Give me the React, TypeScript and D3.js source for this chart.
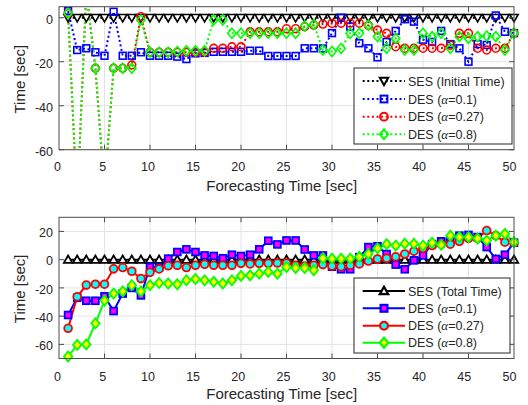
import React from 'react';
import * as d3 from 'd3';

const TIME = [1,2,3,4,5,6,7,8,9,10,11,12,13,14,15,16,17,18,19,20,21,22,23,24,25,26,27,28,29,30,31,32,33,34,35,36,37,38,39,40,41,42,43,44,45,46,47,48,49,50];
const X_TICKS = [0,5,10,15,20,25,30,35,40,45,50];
const TOP_Y_TICKS = [0,-20,-40,-60];
const BOT_Y_TICKS = [20,0,-20,-40,-60];

// Top panel: initial time
const SES_INITIAL = [0,0,0,0,0,0,0,0,0,0,0,0,0,0,0,0,0,0,0,0,0,0,0,0,0,0,0,0,0,0,0,0,0,0,0,0,0,0,0,0,0,0,0,0,0,0,0,0,0,0];
const DES01_INITIAL = [3,-14.7,-13.9,-15.7,-17.3,2.7,-17.3,-17.3,-15.7,-17.3,
  -17.3,-17.3,-17.7,-18.8,-16.2,-16,-15.5,-15.5,-15.5,-15.5,
  -15,-15,-17.4,-17.4,-17.4,-17.4,-13.9,-13.9,-14,-7,
  0,-4,-11.6,-13.9,-18,-11,-6,-0.7,-1.8,-10,
  -11,-6,-12,-13.9,-20,-12,-12.4,1,-6.4,-7];
const DES027_INITIAL = [2,-85,12,-23,-78,-23,-23,-21.5,0.5,-15.7,
  -15.7,-15.7,-15.7,-15.7,-15.7,-15.7,-13.9,-13.9,-13.2,-13.2,
  -6.4,-6.4,-6.4,-6.4,-5,-5,-4.1,-3.4,-2.9,-2.6,
  -2.5,-2.5,-2.5,-3.5,-5.6,-7.1,-13.2,-13.9,-13.9,-13.9,
  -13.9,-13.9,-12.5,-7.1,-7.1,-13.9,-14.7,-13.9,-13.9,-7.1];
const DES08_INITIAL = [2,-85,12,-23,-78,-23,-23,-23,-1,-15.7,
  -15.7,-15.7,-15.4,-15,-15,-15,-1,-1,-7.1,-7.1,
  -7.1,-7.1,-7.1,-7.1,-7.1,-7.1,-3.8,-3.1,-14.7,-15.4,
  -14,-7.1,-7.1,-3.4,-8.6,-13.9,-9.4,-14.7,-14.7,-7.1,
  -8.6,-7.1,-13.9,-8.6,-9.4,-8.6,-8.3,-8.6,-14.7,-7.1];

// Bottom panel: total time
const SES_TOTAL = [0,0,0,0,0,0,0,0,0,0,0,0,0,0,0,0,0,0,0,0,0,0,0,0,0,0,0,0,0,0,0,0,0,0,0,0,0,0,0,0,0,0,0,0,0,0,0,0,0,0];
const DES01_TOTAL = [-39.2,-27,-29.1,-29.1,-26,-36.4,-24,-20,-25.3,-5.2,
  -5.5,0.7,5.4,7.3,5.4,3,2.6,1,3.5,2.6,
  3.5,7.3,13.4,10.8,13.6,13.6,7.2,3,3,-5,
  -6.8,-6.8,1.8,8.9,9.5,4,-3.5,-6.8,-0.5,3,
  11,13,15,17,17.5,16,8.9,0.5,3.5,12];
const DES027_TOTAL = [-48.6,-26.3,-18,-17.4,-17.4,-6.5,-5.6,-8.2,-13.4,-9,
  -6.6,-4.3,-4,-5.6,-4,-3.3,-4,-4,-4,-2.6,
  -3,-2.6,-2.6,-2.4,-2.4,-4,-4.5,-4,-3.5,-4.5,
  -5,-4,-3,-1,0.5,1,2,4,6,8,
  10,11,11,13,15,15,20.6,17,12.4,12];
const DES08_TOTAL = [-68.6,-60.4,-60,-45.1,-29,-24,-22.5,-18.1,-22.5,-18.1,
  -16.5,-16.9,-17.4,-14.6,-13.7,-14.6,-15.7,-16.9,-14.6,-11.5,
  -11.1,-9.9,-8.7,-9.9,-5.2,-5.9,-5.9,-7.5,1,0.7,
  0.7,0.7,2,4,8,11,10,11.3,11.3,10,
  12,10.5,17,16,16,15,13.6,17,18.3,12.4];

const TOP_LABELS = ['SES (Initial Time)', 'DES (|=0.1)', 'DES (|=0.27)', 'DES (|=0.8)'];
const BOT_LABELS = ['SES (Total Time)', 'DES (|=0.1)', 'DES (|=0.27)', 'DES (|=0.8)'];

const FONT = '"Liberation Sans", Arial, Helvetica, sans-serif';
const X_LEFT = 59, X_RIGHT = 514;

type Marker = 'triDown' | 'triUp' | 'square' | 'circle' | 'diamond';
interface Series { values: number[]; color: string; fill: string; marker: Marker; }

function markerEl(m: Marker, x: number, y: number, color: string, fill: string, sw: number, key?: any) {
  const common = { stroke: color, fill, strokeWidth: sw, key } as any;
  switch (m) {
    case 'triDown':
      return <path {...common} d={`M${x - 4.2},${y - 3.2}L${x + 4.2},${y - 3.2}L${x},${y + 4.2}Z`} />;
    case 'triUp':
      return <path {...common} d={`M${x - 4.2},${y + 3.2}L${x + 4.2},${y + 3.2}L${x},${y - 4.2}Z`} />;
    case 'square':
      return <rect {...common} x={x - 3.4} y={y - 3.4} width={6.8} height={6.8} />;
    case 'circle':
      return <circle {...common} cx={x} cy={y} r={3.9} />;
    case 'diamond':
      return <path {...common} d={`M${x},${y - 5}L${x + 4.2},${y}L${x},${y + 5}L${x - 4.2},${y}Z`} />;
  }
}

function LegendText({ label, x, y }: { label: string; x: number; y: number }) {
  const parts = label.split('|');
  return (
    <text x={x} y={y} fontFamily={FONT} fontSize={12.5} fill="#262626">
      {parts[0]}
      {parts.length > 1 && <tspan fontFamily='"Liberation Serif", "DejaVu Serif", serif' fontStyle="italic" fontSize={13}>α</tspan>}
      {parts.length > 1 && parts[1]}
    </text>
  );
}

function Panel(props: {
  id: string; top: number; bottom: number; domain: [number, number]; yTicks: number[];
  series: Series[]; dotted: boolean; labels: string[];
  legend: { x: number; y: number; w: number; h: number; rows: number[] };
  tickBase: number; xLabelBase: number;
}) {
  const { id, top, bottom, domain, yTicks, series, dotted, labels, legend, tickBase, xLabelBase } = props;
  const x = d3.scaleLinear().domain([0, 50]).range([X_LEFT, X_RIGHT]);
  const xLab = d3.scaleLinear().domain([0, 50]).range([57.5, 509.5]);
  const y = d3.scaleLinear().domain(domain).range([bottom, top]);
  const line = d3.line<number>().x((_, i) => x(TIME[i])).y(d => y(d));
  const dash = dotted ? '2 2.6' : undefined;
  const sw = dotted ? 2 : 2;
  const msw = dotted ? 1.6 : 1.8;
  const tl = 5;
  return (
    <g>
      <defs>
        <clipPath id={id}>
          <rect x={X_LEFT} y={top} width={X_RIGHT - X_LEFT} height={bottom - top} />
        </clipPath>
      </defs>
      <rect x={X_LEFT} y={top} width={X_RIGHT - X_LEFT} height={bottom - top} fill="#fff" />
      {/* grid */}
      {X_TICKS.slice(1, -1).map(t => (
        <line key={'gx' + t} x1={x(t)} x2={x(t)} y1={top} y2={bottom} stroke="#e3e3e3" strokeWidth={1} />
      ))}
      {yTicks.map(t => (
        <line key={'gy' + t} x1={X_LEFT} x2={X_RIGHT} y1={y(t)} y2={y(t)} stroke="#e3e3e3" strokeWidth={1} />
      ))}
      {/* series */}
      <g clipPath={`url(#${id})`}>
        {series.map((s, si) => (
          <path key={'l' + si} d={line(s.values) || ''} fill="none" stroke={s.color} strokeWidth={sw}
            strokeDasharray={dash} />
        ))}
      </g>
      {series.map((s, si) => (
        <g key={'m' + si}>
          {s.values.map((v, i) => (v >= domain[0] && v <= domain[1])
            ? markerEl(s.marker, x(TIME[i]), y(v), s.color, s.fill, msw, i) : null)}
        </g>
      ))}
      {/* frame and ticks */}
      <rect x={X_LEFT} y={top} width={X_RIGHT - X_LEFT} height={bottom - top} fill="none" stroke="#4d4d4d" strokeWidth={1} />
      {X_TICKS.slice(1, -1).map(t => (
        <g key={'tx' + t}>
          <line x1={x(t)} x2={x(t)} y1={bottom} y2={bottom - tl} stroke="#4d4d4d" />
          <line x1={x(t)} x2={x(t)} y1={top} y2={top + tl} stroke="#4d4d4d" />
        </g>
      ))}
      {yTicks.map(t => (
        <g key={'ty' + t}>
          <line x1={X_LEFT} x2={X_LEFT + tl} y1={y(t)} y2={y(t)} stroke="#4d4d4d" />
          <line x1={X_RIGHT} x2={X_RIGHT - tl} y1={y(t)} y2={y(t)} stroke="#4d4d4d" />
        </g>
      ))}
      {X_TICKS.map(t => (
        <text key={'lx' + t} x={xLab(t)} y={tickBase} textAnchor="middle" fontFamily={FONT} fontSize={12.5} fill="#262626">{t}</text>
      ))}
      {yTicks.map(t => (
        <text key={'ly' + t} x={53} y={y(t) + 5.8} textAnchor="end" fontFamily={FONT} fontSize={12.5} fill="#262626">{t}</text>
      ))}
      <text x={281.7} y={xLabelBase} textAnchor="middle" fontFamily={FONT} fontSize={15} fill="#262626">Forecasting Time [sec]</text>
      <text transform={`translate(25,${(top + bottom) / 2 + 1}) rotate(-90)`} textAnchor="middle" fontFamily={FONT} fontSize={15} fill="#262626">Time [sec]</text>
      {/* legend */}
      <rect x={legend.x} y={legend.y} width={legend.w} height={legend.h} fill="#fff" stroke="#262626" strokeWidth={1} />
      {series.map((s, si) => {
        const ry = legend.rows[si];
        return (
          <g key={'lg' + si}>
            <line x1={362.7} x2={405} y1={ry} y2={ry} stroke={s.color} strokeWidth={sw} strokeDasharray={dash} />
            {markerEl(s.marker, 384, ry, s.color, s.fill, msw + 0.4)}
            <LegendText label={labels[si]} x={408} y={ry + 4.5} />
          </g>
        );
      })}
    </g>
  );
}

export default function App() {
  const topSeries: Series[] = [
    { values: SES_INITIAL, color: '#000000', fill: '#ffffff', marker: 'triDown' },
    { values: DES01_INITIAL, color: '#0000ff', fill: 'none', marker: 'square' },
    { values: DES027_INITIAL, color: '#ff0000', fill: 'none', marker: 'circle' },
    { values: DES08_INITIAL, color: '#00ff00', fill: 'none', marker: 'diamond' },
  ];
  const botSeries: Series[] = [
    { values: SES_TOTAL, color: '#000000', fill: '#ffffff', marker: 'triUp' },
    { values: DES01_TOTAL, color: '#0000ff', fill: '#ff00ff', marker: 'square' },
    { values: DES027_TOTAL, color: '#ff0000', fill: '#00ffff', marker: 'circle' },
    { values: DES08_TOTAL, color: '#00ff00', fill: '#ffff00', marker: 'diamond' },
  ];
  return (
    <svg width={528} height={405} style={{ position: 'absolute', left: 0, top: 0, background: '#fff' }}>
      <rect x={0} y={0} width={528} height={405} fill="#fff" />
      <Panel id="clipTop" top={6.7} bottom={149.7} domain={[-60, 5]} yTicks={TOP_Y_TICKS}
        series={topSeries} dotted={true} labels={TOP_LABELS}
        legend={{ x: 354, y: 68, w: 158, h: 76, rows: [81, 99, 116.7, 134.3] }}
        tickBase={171} xLabelBase={191} />
      <Panel id="clipBot" top={217.3} bottom={358.5} domain={[-70, 30]} yTicks={BOT_Y_TICKS}
        series={botSeries} dotted={false} labels={BOT_LABELS}
        legend={{ x: 354, y: 278, w: 156, h: 75, rows: [291, 308.3, 325.7, 342.7] }}
        tickBase={381} xLabelBase={399} />
    </svg>
  );
}
